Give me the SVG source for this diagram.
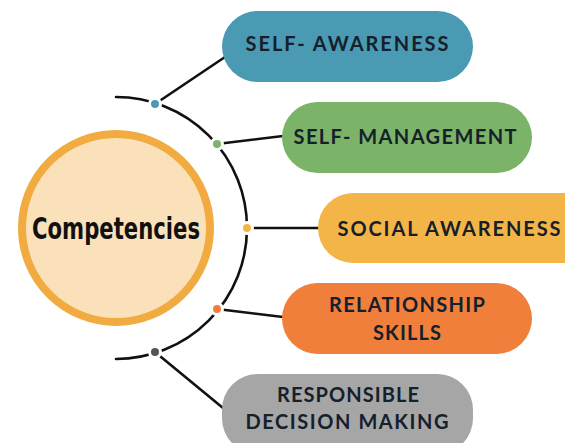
<svg xmlns="http://www.w3.org/2000/svg" width="565" height="443" viewBox="0 0 565 443">
<style>
.pill-text{font-family:Lato,"Open Sans","Liberation Sans",sans-serif;font-weight:bold;font-size:20px;fill:#15202b;text-anchor:middle;letter-spacing:2px}
.conn{fill:none;stroke:#111;stroke-width:2.6;stroke-linecap:round}
.dot{stroke:#fff;stroke-width:3}
</style>
<rect width="565" height="443" fill="#fff"/>
<g id="connectors">
<path class="conn" d="M116 97 A131 131 0 0 1 116 359"/>
<line class="conn" x1="155" y1="104" x2="225" y2="57"/>
<line class="conn" x1="217" y1="144" x2="283" y2="136"/>
<line class="conn" x1="247" y1="228" x2="319" y2="228"/>
<line class="conn" x1="217" y1="309" x2="283" y2="317"/>
<line class="conn" x1="155" y1="352" x2="223" y2="408"/>
<circle class="dot" cx="155" cy="104" r="5.5" fill="#4a9ab4"/>
<circle class="dot" cx="217" cy="144" r="5.5" fill="#7bb369"/>
<circle class="dot" cx="247" cy="228" r="5.5" fill="#f4b548"/>
<circle class="dot" cx="217" cy="309" r="5.5" fill="#f07f3c"/>
<circle class="dot" cx="155" cy="352" r="5.5" fill="#555"/>
</g>
<g id="competencies">
<circle cx="116" cy="228" r="94" fill="#fbe1ba" stroke="#f1ab41" stroke-width="8"/>
<text x="116" y="239" text-anchor="middle" font-family="'DejaVu Sans Condensed','DejaVu Sans',sans-serif" font-weight="bold" font-stretch="condensed" font-size="31" fill="#111" textLength="168" lengthAdjust="spacingAndGlyphs">Competencies</text>
</g>
<g id="self-awareness">
<rect x="222" y="11" width="251" height="71" rx="35.5" fill="#4a9ab4"/>
<text class="pill-text" x="348" y="51" textLength="205">SELF- AWARENESS</text>
</g>
<g id="self-management">
<rect x="282" y="102" width="250" height="71" rx="35.5" fill="#7bb369"/>
<text class="pill-text" x="406" y="144" textLength="225">SELF- MANAGEMENT</text>
</g>
<g id="social-awareness">
<rect x="318" y="193" width="280" height="70" rx="35" fill="#f4b548"/>
<text class="pill-text" x="450" y="236" textLength="225">SOCIAL AWARENESS</text>
</g>
<g id="relationship-skills">
<rect x="282" y="283" width="250" height="71" rx="35.5" fill="#f07f3c"/>
<text class="pill-text" x="408" y="312" textLength="158">RELATIONSHIP</text>
<text class="pill-text" x="408" y="340" textLength="70">SKILLS</text>
</g>
<g id="responsible-decision-making">
<rect x="222" y="374" width="251" height="80" rx="35.5" fill="#a6a6a6"/>
<text class="pill-text" x="349" y="402" textLength="144">RESPONSIBLE</text>
<text class="pill-text" x="348" y="429" textLength="205">DECISION MAKING</text>
</g>
</svg>
